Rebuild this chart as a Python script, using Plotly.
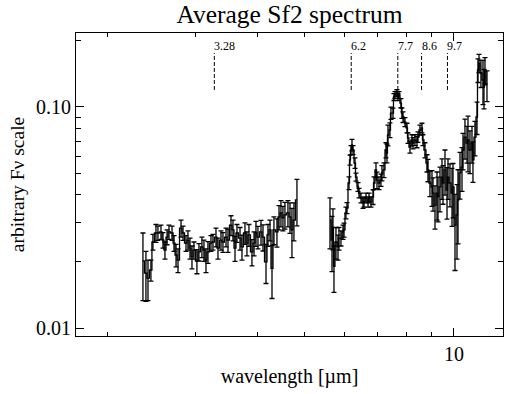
import numpy as np
import plotly.graph_objects as go

# --- AKARI (2.3-5 um) segment ---
wl_akari = [2.353, 2.386, 2.409, 2.442, 2.465, 2.500, 2.523, 2.559, 2.583, 2.607,
            2.632, 2.656, 2.694, 2.719, 2.745, 2.770, 2.809, 2.835, 2.875, 2.901,
            2.929, 2.956, 2.983, 3.025, 3.053, 3.096, 3.125, 3.155, 3.184, 3.229,
            3.259, 3.305, 3.336, 3.383, 3.414, 3.463, 3.495, 3.544, 3.577, 3.611,
            3.644, 3.696, 3.730, 3.782, 3.817, 3.853, 3.907, 3.945, 3.981, 4.018,
            4.075, 4.113, 4.171, 4.209, 4.249, 4.289, 4.328, 4.389, 4.431, 4.471,
            4.513, 4.555, 4.619, 4.663, 4.706, 4.750, 4.817]
flux_akari = [0.0201, 0.0177, 0.0168, 0.0183, 0.0245, 0.0269, 0.0269, 0.0272, 0.0250, 0.0225,
              0.0258, 0.0272, 0.0269, 0.0242, 0.0214, 0.0203, 0.0283, 0.0269, 0.0242, 0.0250,
              0.0230, 0.0210, 0.0225, 0.0201, 0.0221, 0.0233, 0.0225, 0.0203, 0.0221, 0.0242,
              0.0245, 0.0258, 0.0230, 0.0250, 0.0245, 0.0258, 0.0250, 0.0292, 0.0278, 0.0230,
              0.0269, 0.0255, 0.0233, 0.0269, 0.0242, 0.0264, 0.0221, 0.0242, 0.0269, 0.0258,
              0.0272, 0.0258, 0.0199, 0.0264, 0.0278, 0.0186, 0.0278, 0.0272, 0.0318, 0.0332,
              0.0315, 0.0325, 0.0332, 0.0318, 0.0278, 0.0308, 0.0380]
err_akari = [0.0068, 0.0045, 0.0035, 0.002, 0.002, 0.0025, 0.002, 0.002, 0.002, 0.002,
             0.002, 0.002, 0.002, 0.002, 0.0025, 0.0025, 0.0025, 0.002, 0.002, 0.0025,
             0.0025, 0.0025, 0.002, 0.0025, 0.002, 0.0025, 0.0025, 0.0025, 0.0025, 0.002,
             0.002, 0.0025, 0.0025, 0.0025, 0.0025, 0.0025, 0.003, 0.003, 0.003, 0.003,
             0.0025, 0.003, 0.003, 0.003, 0.003, 0.003, 0.003, 0.003, 0.0035, 0.003,
             0.0035, 0.0035, 0.004, 0.003, 0.003, 0.005, 0.004, 0.004, 0.004, 0.0045,
             0.004, 0.0045, 0.0045, 0.005, 0.007, 0.006, 0.009]

# --- Spitzer IRS (5.6-12 um) segment ---
wl_irs = [5.617, 5.670, 5.695, 5.722, 5.775, 5.830, 5.857, 5.911, 5.967, 5.995,
          6.050, 6.079, 6.136, 6.165, 6.193, 6.222, 6.252, 6.310, 6.339, 6.399,
          6.429, 6.488, 6.550, 6.580, 6.641, 6.704, 6.735, 6.797, 6.861, 6.893,
          6.957, 6.989, 7.055, 7.120, 7.153, 7.220, 7.288, 7.321, 7.356, 7.424,
          7.459, 7.529, 7.564, 7.599, 7.669, 7.706, 7.742, 7.813, 7.850, 7.888,
          7.961, 8.036, 8.073, 8.148, 8.225, 8.263, 8.340, 8.418, 8.457, 8.535,
          8.616, 8.656, 8.736, 8.819, 8.860, 8.942, 9.027, 9.070, 9.154, 9.241,
          9.284, 9.369, 9.458, 9.502, 9.590, 9.681, 9.725, 9.815, 9.908, 9.954,
          10.047, 10.141, 10.188, 10.283, 10.380, 10.428, 10.524, 10.624, 10.673, 10.771,
          10.873, 10.923, 11.025, 11.129, 11.181, 11.233, 11.336, 11.444, 11.497, 11.550,
          11.659]
flux_irs = [0.0308, 0.0250, 0.0286, 0.0190, 0.0245, 0.0233, 0.0255, 0.0255, 0.0272, 0.0278,
            0.0332, 0.0349, 0.0453, 0.0576, 0.0639, 0.0673, 0.0639, 0.0558, 0.0482, 0.0435,
            0.0408, 0.0388, 0.0368, 0.0372, 0.0388, 0.0372, 0.0388, 0.0372, 0.0392, 0.0453,
            0.0519, 0.0467, 0.0453, 0.0467, 0.0503, 0.0519, 0.0639, 0.0619, 0.0747, 0.0787,
            0.0939, 0.0939, 0.1110, 0.1133, 0.1157, 0.1110, 0.1133, 0.1042, 0.0939, 0.0901,
            0.0855, 0.0804, 0.0724, 0.0659, 0.0709, 0.0687, 0.0709, 0.0694, 0.0731, 0.0787,
            0.0804, 0.0709, 0.0639, 0.0558, 0.0519, 0.0453, 0.0435, 0.0408, 0.0360, 0.0408,
            0.0392, 0.0435, 0.0482, 0.0453, 0.0519, 0.0421, 0.0482, 0.0453, 0.0408, 0.0435,
            0.0292, 0.0325, 0.0380, 0.0503, 0.0535, 0.0639, 0.0731, 0.0687, 0.0709, 0.0639,
            0.0687, 0.0576, 0.0731, 0.0901, 0.1471, 0.1581, 0.1425, 0.1325, 0.1231, 0.1471,
            0.1257]
err_irs = [0.008, 0.007, 0.006, 0.0045, 0.004, 0.003, 0.003, 0.002, 0.002, 0.002,
           0.002, 0.002, 0.003, 0.003, 0.003, 0.004, 0.003, 0.003, 0.002, 0.002,
           0.002, 0.002, 0.002, 0.002, 0.002, 0.002, 0.002, 0.002, 0.003, 0.003,
           0.004, 0.004, 0.003, 0.003, 0.004, 0.004, 0.005, 0.006, 0.008, 0.006,
           0.006, 0.005, 0.004, 0.004, 0.004, 0.004, 0.004, 0.005, 0.005, 0.005,
           0.004, 0.004, 0.004, 0.004, 0.004, 0.004, 0.004, 0.004, 0.004, 0.004,
           0.004, 0.004, 0.005, 0.005, 0.006, 0.006, 0.008, 0.007, 0.008, 0.010,
           0.009, 0.010, 0.010, 0.009, 0.012, 0.011, 0.010, 0.010, 0.012, 0.012,
           0.011, 0.012, 0.014, 0.012, 0.012, 0.012, 0.015, 0.013, 0.020, 0.014,
           0.013, 0.012, 0.013, 0.015, 0.018, 0.015, 0.020, 0.030, 0.025, 0.020,
           0.020]

# PAH feature markers
feature_wl = [3.28, 6.2, 7.7, 8.6, 9.7]
feature_labels = ["3.28", "6.2", "7.7", "8.6", "9.7"]
feature_lo, feature_hi, feature_text_y = 0.1194, 0.1755, 0.189

x_major = [10]
x_minor = [2, 3, 4, 5, 6, 7, 8, 9]
y_major = [0.01, 0.1]
y_major_text = ["0.01", "0.10"]
y_minor = [0.02, 0.03, 0.04, 0.05, 0.06, 0.07, 0.08, 0.09, 0.2]

FONT = "Liberation Serif, Times New Roman, serif"

fig = go.Figure()
for wl, fl, er in [(wl_akari, flux_akari, err_akari), (wl_irs, flux_irs, err_irs)]:
    fig.add_trace(go.Scatter(
        x=wl, y=fl, mode="lines", line=dict(color="black", width=1.3, shape="hvh"),
        error_y=dict(type="data", array=er, color="black", thickness=1.3, width=2.5),
        showlegend=False, hoverinfo="skip"))

fx, fy = [], []
for w in feature_wl:
    fx += [w, w, None]
    fy += [feature_lo, feature_hi, None]
fig.add_trace(go.Scatter(x=fx, y=fy, mode="lines",
                         line=dict(color="black", width=1, dash="4px,2px"),
                         showlegend=False, hoverinfo="skip"))

for w, t in zip(feature_wl, feature_labels):
    fig.add_annotation(x=np.log10(w), y=np.log10(feature_text_y), xref="x", yref="y",
                       text=t, showarrow=False, xanchor="left", yanchor="middle",
                       xshift=-2, font=dict(family=FONT, size=12, color="black"))

axis_common = dict(type="log", showline=True, linecolor="black", linewidth=1, mirror="ticks",
                   ticks="inside", ticklen=8, tickwidth=1, tickcolor="black", showgrid=False,
                   zeroline=False, automargin=False,
                   tickfont=dict(family=FONT, size=20, color="black"))
fig.update_xaxes(**axis_common, range=[0.2364, 1.099], tickvals=x_major, ticktext=["10"],
                 minor=dict(tickvals=x_minor, ticks="inside", ticklen=4, tickcolor="black", showgrid=False),
                 title=dict(text="wavelength [µm]", font=dict(family=FONT, size=20, color="black"), standoff=4))
fig.update_yaxes(**axis_common, range=[-2.0362, -0.6652], tickvals=y_major, ticktext=y_major_text,
                 minor=dict(tickvals=y_minor, ticks="inside", ticklen=5, tickcolor="black", showgrid=False),
                 title=dict(text="arbitrary Fν scale", font=dict(family=FONT, size=19.5, color="black"), standoff=6))

fig.update_layout(
    width=514, height=394, margin=dict(l=76, r=11, t=33, b=58),
    paper_bgcolor="white", plot_bgcolor="white",
    title=dict(text="Average Sf2 spectrum", x=0.5, xanchor="center", xref="paper",
               y=1 - 14 / 394, yref="container", yanchor="middle",
               font=dict(family=FONT, size=25.5, color="black")),
    showlegend=False)

fig.write_html("out.html", config={"displayModeBar": False},
               post_script="document.body.style.margin='0';")
